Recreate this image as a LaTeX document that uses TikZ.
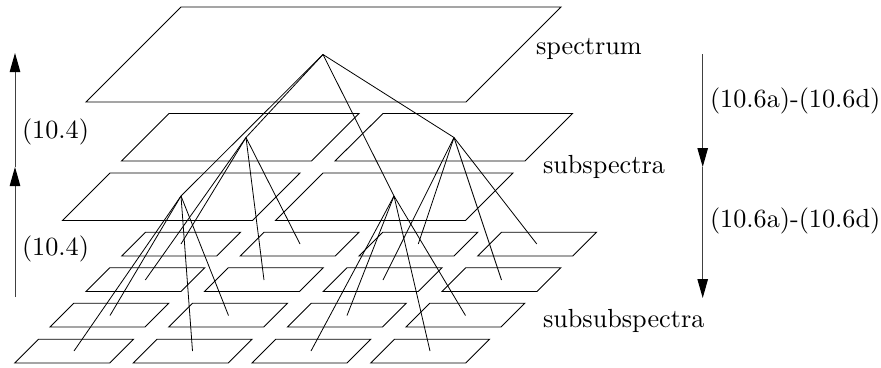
\documentclass[tikz,border=0pt]{standalone}
\usetikzlibrary{arrows.meta}
\tikzset{
  x=1pt,y=-1pt,
  plane/.style={draw=black,line width=0.9pt,line join=miter},
  link/.style={draw=black,line width=0.8pt},
  flow/.style={draw=black!75,line width=1pt,-{Triangle[length=19pt,width=10.5pt,fill=black,color=black]}},
  lab/.style={anchor=base west,inner sep=0pt,outer sep=0pt,scale=2.62},
  pt/.style={coordinate}
}
\begin{document}
\begin{tikzpicture}
\useasboundingbox (0,0) rectangle (881,367);
% planes
\draw[plane] (181,7) -- (561,7) -- (466,102) -- (86,102) -- cycle;
\draw[plane] (169,113.5) -- (359,113.5) -- (311.5,161) -- (121.5,161) -- cycle;
\draw[plane] (383,113.5) -- (572.5,113.5) -- (525,161) -- (335,161) -- cycle;
\draw[plane] (110,173) -- (300,173) -- (252.5,220.5) -- (62.5,220.5) -- cycle;
\draw[plane] (323,173) -- (513,173) -- (465.5,220.5) -- (275.5,220.5) -- cycle;
\foreach \bx/\by in {121.7/256,240.3/256,359/256,477.7/256,
                     86/291.5,204.5/291.5,323.2/291.5,442/291.5,
                     50/327,168.7/327,287.4/327,406/327,
                     14.7/363,133.3/363,252/363,370.7/363}{
  \draw[plane] (\bx,\by) ++(23.8,-23.8) -- ++(95,0) -- ++(-23.8,23.8) -- ++(-95,0) -- cycle;
}
% tree
\node[pt] (root) at (323,54.5) {};
\node[pt] (a) at (246,137.5) {};
\node[pt] (b) at (454,137.5) {};
\node[pt] (c) at (181,196) {};
\node[pt] (d) at (394,196) {};
\foreach \n/\px/\py in {a1/181/244,a2/300/244,a3/145.3/280,a4/264/280,
                        b1/418.3/244,b2/536.8/244,b3/383/280,b4/501.5/280,
                        c1/110/315.5,c2/228.5/315.5,c3/74/351,c4/192.5/351,
                        d1/347/315.5,d2/465.5/315.5,d3/311/351,d4/430/351}{
  \node[pt] (\n) at (\px,\py) {};
}
\foreach \k in {a,b,c,d}{
  \draw[link] (root) -- (\k);
  \foreach \i in {1,2,3,4}{\draw[link] (\k) -- (\k\i);}
}
% arrows
\node[pt] (l0) at (15,297) {};
\node[pt] (l1) at (15,167) {};
\node[pt] (l2) at (15,53) {};
\draw[flow] (l0) -- (l1);
\draw[flow] (l1) -- (l2);
\node[pt] (r0) at (702.7,54) {};
\node[pt] (r1) at (702.7,167) {};
\node[pt] (r2) at (702.7,298) {};
\draw[flow] (r0) -- (r1);
\draw[flow] (r1) -- (r2);
% labels
\node[lab] (t1) at (22,138) {(10.4)};
\node[lab] (t2) at (22,255.5) {(10.4)};
\node[lab] (t3) at (536,54.5) {spectrum};
\node[lab] (t4) at (543,173) {subspectra};
\node[lab] (t5) at (543,327) {subsubspectra};
\node[lab] (t6) at (710,107.5) {(10.6a)-(10.6d)};
\node[lab] (t7) at (710,227) {(10.6a)-(10.6d)};
\end{tikzpicture}
\end{document}
